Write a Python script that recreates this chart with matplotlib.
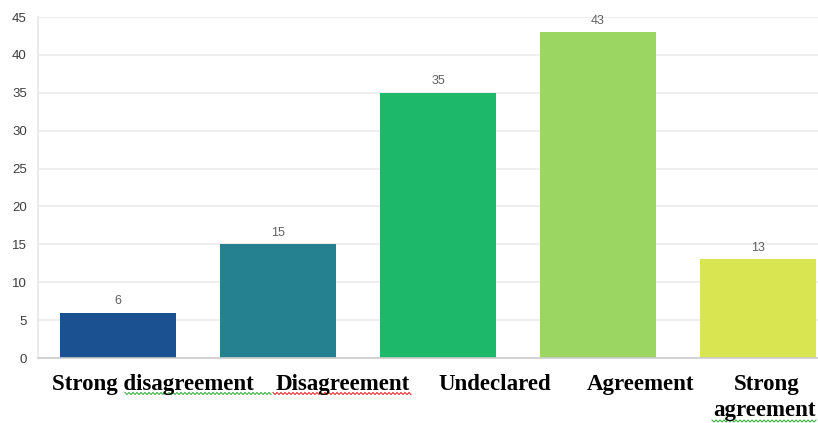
import matplotlib
matplotlib.use("Agg")
import matplotlib.pyplot as plt
from matplotlib.lines import Line2D
import numpy as np

categories = ["Strong disagreement", "Disagreement", "Undeclared", "Agreement", "Strong agreement"]
values = [6, 15, 35, 43, 13]
colors = ["#1b5190", "#25818f", "#1eb86b", "#9ad661", "#d9e651"]
yticks = [0, 5, 10, 15, 20, 25, 30, 35, 40, 45]

W, H = 818, 423
fig = plt.figure(figsize=(W / 100, H / 100), dpi=100)
fig.patch.set_facecolor("white")


def px(x, y):
    """Figure pixel position (origin top-left) -> figure fraction."""
    return x / W, (H - y) / H


# axes run past the right edge of the figure, so the last slot is cut off
left, right, bottom, top = 38, 838, 358, 17
ax = fig.add_axes([left / W, (H - bottom) / H, (right - left) / W, (bottom - top) / H])

x = list(range(len(values)))
ax.bar(x, values, width=0.72, color=colors, zorder=2)
ax.set_xlim(-0.5, len(values) - 0.5)
ax.set_ylim(0, 45)
ax.set_yticks(yticks)
ax.set_xticks([])

ax.grid(axis="y", color="#ebebeb", linewidth=1.2, zorder=0)
for s in ["top", "right"]:
    ax.spines[s].set_visible(False)
ax.spines["left"].set_color("#e6e6e6")
ax.spines["left"].set_linewidth(1.2)
ax.spines["bottom"].set_color("#cccccc")
ax.spines["bottom"].set_linewidth(1.2)
ax.tick_params(axis="y", length=0, pad=8, labelsize=9.5, labelcolor="#3c3c3c")
for t in ax.get_yticklabels():
    t.set_family("Liberation Sans")

for xi, v in zip(x, values):
    ax.annotate(str(v), (xi, v), xytext=(0, 4), textcoords="offset points",
                ha="center", va="bottom", fontsize=9, color="#606060",
                family="Liberation Sans")

# category captions set below the axis as separate lines of text
caption_lines = [
    (categories[0], 152.5, 390),
    (categories[1], 342.5, 390),
    (categories[2], 495, 390),
    (categories[3], 640.5, 390),
    (categories[4].split()[0], 766.5, 390),
    (categories[4].split()[1], 764.5, 416),
]
for text, cx, base in caption_lines:
    fx, fy = px(cx, base)
    fig.text(fx, fy, text, ha="center", va="baseline", fontsize=16.5,
             fontweight="bold", family="Liberation Serif", color="black")


def squiggle(x0, x1, y, color):
    xs = np.arange(x0, x1 + 0.1, 2.0)
    ys = y + np.where(np.arange(len(xs)) % 2 == 0, -1.0, 1.0)
    fig.add_artist(Line2D(xs / W, (H - ys) / H, transform=fig.transFigure,
                          color=color, linewidth=0.8))


squiggle(125, 272, 393.5, "#3cb043")
squiggle(273, 412, 393.5, "#e03030")
squiggle(712, 817, 421, "#3cb043")

fig.savefig("out.png", dpi=100, facecolor="white")
